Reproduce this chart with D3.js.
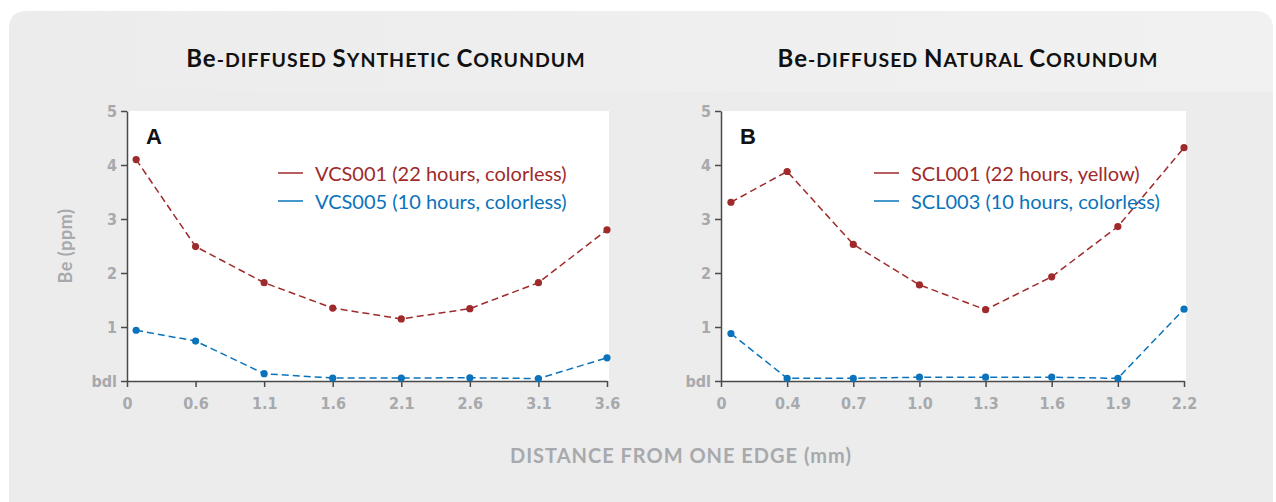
<!DOCTYPE html>
<html>
<head>
<meta charset="utf-8">
<script src="https://cdn.jsdelivr.net/npm/d3@7"></script>
<style>
  body { margin: 0; background: #fff; }
  svg { display: block; }
  .tick text { font-family: "Liberation Sans Narrow", "DejaVu Sans Condensed", sans-serif; font-weight: bold; font-size: 16px; fill: #a7a9ac; }
  .tick line, .domain { stroke: #4a4a4a; stroke-width: 1.5; }
</style>
</head>
<body>
<script>
// ---- data ----
var ticksA = [0, 0.6, 1.1, 1.6, 2.1, 2.6, 3.1, 3.6];
var labelsA = ["0", "0.6", "1.1", "1.6", "2.1", "2.6", "3.1", "3.6"];
var ticksB = [0, 0.4, 0.7, 1.0, 1.3, 1.6, 1.9, 2.2];
var labelsB = ["0", "0.4", "0.7", "1.0", "1.3", "1.6", "1.9", "2.2"];
var yTicks = [0, 1, 2, 3, 4, 5];
var yLabels = ["bdl", "1", "2", "3", "4", "5"];

var distA = [0.08, 0.6, 1.1, 1.6, 2.1, 2.6, 3.1, 3.6];
var vcs001 = [4.1, 2.49, 1.82, 1.35, 1.15, 1.34, 1.82, 2.8];
var vcs005 = [0.94, 0.74, 0.135, 0.055, 0.055, 0.06, 0.045, 0.43];

var distB = [0.06, 0.4, 0.7, 1.0, 1.3, 1.6, 1.9, 2.2];
var scl001 = [3.31, 3.88, 2.53, 1.78, 1.32, 1.93, 2.86, 4.32];
var scl003 = [0.88, 0.05, 0.05, 0.07, 0.07, 0.07, 0.05, 1.33];

var red = "#9e2a2b", blue = "#0a73bb";

var width = 1276, height = 502;
var svg = d3.select("body").append("svg")
  .attr("width", width)
  .attr("height", height);

// background card
var defs = svg.append("defs");
var grad = defs.append("linearGradient").attr("id", "hdr").attr("x1", 0).attr("x2", 1);
grad.append("stop").attr("offset", 0).attr("stop-color", "#ececec");
grad.append("stop").attr("offset", 1).attr("stop-color", "#f1f1f1");

svg.append("rect")
  .attr("x", 9).attr("y", 11).attr("width", 1264).attr("height", 520)
  .attr("rx", 18).attr("fill", "#ececec");
svg.append("path")
  .attr("d", "M9,92 L9,29 Q9,11 27,11 L1255,11 Q1273,11 1273,29 L1273,92 Z")
  .attr("fill", "url(#hdr)");

// small caps title helper
function title(x, parts) {
  var t = svg.append("text")
    .attr("x", x).attr("y", 67)
    .attr("text-anchor", "middle")
    .style("font-family", "Lato, 'Open Sans', sans-serif")
    .style("font-weight", "bold")
    .style("letter-spacing", "1px")
    .style("fill", "#111");
  parts.forEach(function(p) {
    t.append("tspan").attr("font-size", p[1] ? 24 : 19.5).text(p[0]);
  });
}
title(386, [["Be", 1], ["-DIFFUSED ", 0], ["S", 1], ["YNTHETIC ", 0], ["C", 1], ["ORUNDUM", 0]]);
title(968, [["Be", 1], ["-DIFFUSED ", 0], ["N", 1], ["ATURAL ", 0], ["C", 1], ["ORUNDUM", 0]]);

var y = d3.scaleLinear().domain([0, 5]).range([381, 111]);

function panel(opt) {
  var n = opt.ticks.length;
  var x = d3.scaleLinear()
    .domain(opt.ticks)
    .range(opt.ticks.map(function(d, i) { return opt.x0 + i * (opt.x1 - opt.x0) / (n - 1); }));

  var g = svg.append("g");
  g.append("rect")
    .attr("x", opt.x0).attr("y", y(5))
    .attr("width", opt.x1 - opt.x0 + 2).attr("height", y(0) - y(5))
    .attr("fill", "#fff");

  g.append("g")
    .attr("transform", "translate(0," + y(0) + ")")
    .call(d3.axisBottom(x).tickValues(opt.ticks).tickSize(6).tickSizeOuter(0)
      .tickFormat(function(d, i) { return opt.labels[i]; }))
    .call(function(a) { a.selectAll("text").attr("dy", "1.2em"); });

  g.append("g")
    .attr("transform", "translate(" + opt.x0 + ",0)")
    .call(d3.axisLeft(y).tickValues(yTicks).tickSize(6).tickSizeOuter(0)
      .tickFormat(function(d, i) { return yLabels[i]; }))
    .call(function(a) { a.selectAll("text").attr("dy", "0.35em").attr("x", -10); });

  var line = d3.line()
    .x(function(d) { return x(d[0]); })
    .y(function(d) { return y(d[1]); });

  opt.series.forEach(function(s, k) {
    var pts = opt.dist.map(function(d, i) { return [d, s.values[i]]; });
    g.append("path")
      .datum(pts)
      .attr("d", line)
      .attr("fill", "none")
      .attr("stroke", s.color)
      .attr("stroke-width", 1.5)
      .attr("stroke-dasharray", "7,4");
    g.selectAll(null)
      .data(pts)
      .enter().append("circle")
      .attr("cx", function(d) { return x(d[0]); })
      .attr("cy", function(d) { return y(d[1]); })
      .attr("r", 3.6)
      .attr("fill", s.color);

    // legend
    var ly = 173 + k * 28;
    g.append("line")
      .attr("x1", opt.legX).attr("x2", opt.legX + 25)
      .attr("y1", ly).attr("y2", ly)
      .attr("stroke", s.color).attr("stroke-width", 1.5);
    g.append("text")
      .attr("x", opt.legX + 37).attr("y", ly + 8)
      .style("font-family", "Lato, 'Open Sans', sans-serif")
      .style("font-size", "20px")
      .style("fill", s.color)
      .text(s.name);
  });

  g.append("text")
    .attr("x", opt.x0 + 19).attr("y", 144)
    .style("font-family", "'Liberation Sans', Arial, sans-serif")
    .style("font-weight", "bold")
    .style("font-size", "22px")
    .style("fill", "#111")
    .text(opt.letter);
}

panel({
  x0: 127, x1: 607, ticks: ticksA, labels: labelsA, dist: distA, legX: 278, letter: "A",
  series: [
    { name: "VCS001 (22 hours, colorless)", values: vcs001, color: red },
    { name: "VCS005 (10 hours, colorless)", values: vcs005, color: blue }
  ]
});
panel({
  x0: 721, x1: 1184, ticks: ticksB, labels: labelsB, dist: distB, legX: 874, letter: "B",
  series: [
    { name: "SCL001 (22 hours, yellow)", values: scl001, color: red },
    { name: "SCL003 (10 hours, colorless)", values: scl003, color: blue }
  ]
});

// axis titles
svg.append("text")
  .attr("transform", "translate(72,246) rotate(-90)")
  .attr("text-anchor", "middle")
  .style("font-family", "Lato, 'Open Sans', sans-serif")
  .style("font-weight", "bold")
  .style("font-size", "18px")
  .style("letter-spacing", "0.5px")
  .style("fill", "#a7a9ac")
  .text("Be (ppm)");

svg.append("text")
  .attr("x", 681).attr("y", 463)
  .attr("text-anchor", "middle")
  .style("font-family", "Lato, 'Open Sans', sans-serif")
  .style("font-weight", "bold")
  .style("font-size", "20px")
  .style("letter-spacing", "1px")
  .style("fill", "#a7a9ac")
  .text("DISTANCE FROM ONE EDGE (mm)");
</script>
</body>
</html>
